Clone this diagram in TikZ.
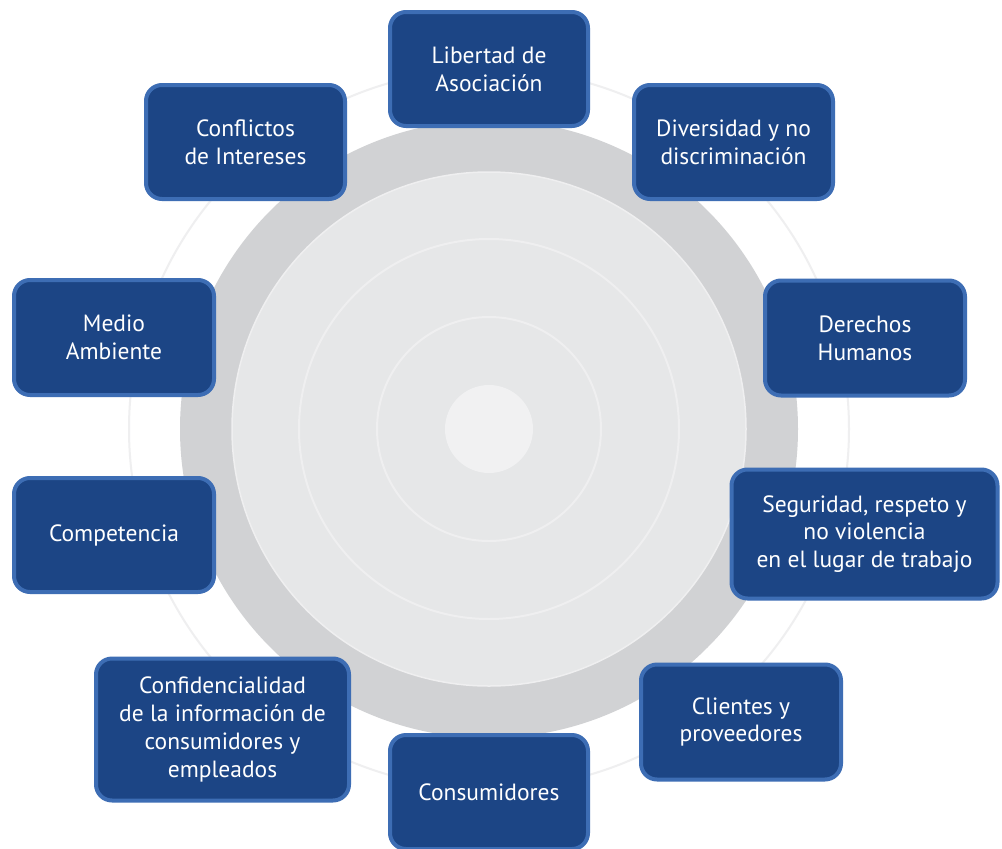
\documentclass[tikz,border=0pt]{standalone}
\usepackage{fontspec}
\setmainfont{PT Sans}
\definecolor{boxfill}{HTML}{1C4585}
\definecolor{boxrim}{HTML}{3D6DB4}
\definecolor{ringdark}{HTML}{D1D2D4}
\definecolor{ringlight}{HTML}{E6E7E8}
\definecolor{ringline}{HTML}{EFEFF0}
\definecolor{hub}{HTML}{F1F1F2}
\begin{document}
\begin{tikzpicture}[x=1pt,y=-1pt,
  topic/.style={draw=boxrim, fill=boxfill, line width=4pt, rounded corners=16pt,
    text=white, align=center, inner sep=0pt,
    font=\fontsize{23.5}{27.8}\selectfont},
  ringstroke/.style={draw=ringline, line width=2pt}]
\useasboundingbox[fill=white] (0,0) rectangle (1002,849);
% background rings
\coordinate (c) at (489,429);
\draw[ringstroke] (c) circle[radius=360];
\fill[ringdark] (c) circle[radius=309];
\filldraw[fill=ringlight, draw=ringline, line width=1.5pt] (c) circle[radius=257];
\draw[ringstroke] (c) circle[radius=190];
\draw[ringstroke] (c) circle[radius=112];
\fill[hub] (c) circle[radius=44];
% topic boxes
\node[topic, minimum width=198, minimum height=114] (lib) at (489,69) {Libertad de\\Asociación};
\node[topic, minimum width=199, minimum height=114] (div) at (733.5,142) {Diversidad y no\\discriminación};
\node[topic, minimum width=199, minimum height=114] (con) at (245.5,142) {Conflictos\\de Intereses};
\node[topic, minimum width=200, minimum height=115] (med) at (114,337.5) {Medio\\Ambiente};
\node[topic, minimum width=200, minimum height=115] (der) at (865,338) {Derechos\\Humanos};
\node[topic, minimum width=200, minimum height=114] (com) at (114,535) {Competencia};
\node[topic, minimum width=266, minimum height=129] (seg) at (864.5,534) {Seguridad, respeto y\\no violencia\\en el lugar de trabajo};
\node[topic, minimum width=253, minimum height=142] (cnf) at (222.5,729.5) {Confidencialidad\\de la información de\\consumidores y\\empleados};
\node[topic, minimum width=200, minimum height=115] (cli) at (741,722) {Clientes y\\proveedores};
\node[topic, minimum width=198, minimum height=114] (cns) at (489,792) {\raisebox{-3pt}{Consumidores}};
\end{tikzpicture}
\end{document}
